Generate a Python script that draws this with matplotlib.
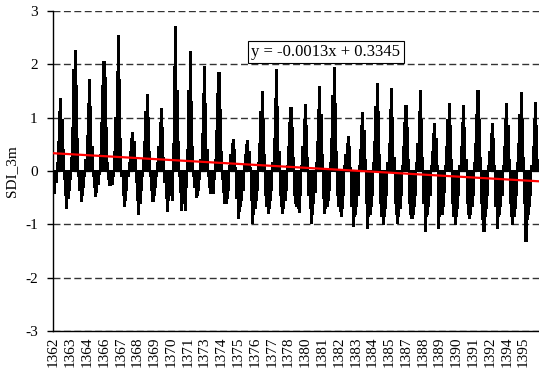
import numpy as np
import matplotlib.pyplot as plt

plt.rcParams['font.family'] = ['Liberation Serif', 'DejaVu Serif']
plt.rcParams['axes.unicode_minus'] = False

# SDI (3-month) monthly values, one list per water year (Mehr..Shahrivar)
wy_1362 = [-0.35, -0.41, -0.20, 0.15, 0.55, 1.10, 1.35, 0.95, 0.40, -0.15, -0.45, -0.69]
wy_1363 = [-0.50, -0.35, -0.15, 0.25, 0.80, 1.90, 2.25, 1.60, 0.60, -0.10, -0.35, -0.56]
wy_1364 = [-0.45, -0.30, -0.10, 0.20, 0.65, 1.25, 1.70, 1.20, 0.45, -0.10, -0.30, -0.47]
wy_1365 = [-0.40, -0.25, -0.05, 0.30, 0.90, 1.60, 2.04, 1.75, 0.80, 0.15, -0.15, -0.26]
wy_1366 = [-0.20, -0.25, -0.10, 0.35, 1.00, 1.85, 2.54, 1.70, 0.60, -0.10, -0.45, -0.65]
wy_1367 = [-0.55, -0.35, -0.10, 0.15, 0.35, 0.60, 0.72, 0.55, 0.20, -0.20, -0.55, -0.81]
wy_1368 = [-0.60, -0.35, -0.10, 0.20, 0.55, 1.10, 1.42, 1.00, 0.35, -0.10, -0.35, -0.56]
wy_1369 = [-0.45, -0.30, -0.10, 0.15, 0.45, 0.90, 1.17, 0.80, 0.25, -0.20, -0.50, -0.75]
wy_1370 = [-0.55, -0.45, -0.35, -0.55, 0.50, 1.95, 2.70, 1.50, 0.55, -0.10, -0.40, -0.73]
wy_1371 = [-0.50, -0.60, -0.73, -0.30, 0.40, 1.50, 2.23, 1.30, 0.45, -0.10, -0.30, -0.48]
wy_1372 = [-0.45, -0.35, -0.15, 0.20, 0.70, 1.45, 1.95, 1.25, 0.40, -0.10, -0.30, -0.41]
wy_1373 = [-0.38, -0.41, -0.15, 0.20, 0.75, 1.45, 1.84, 1.15, 0.35, -0.15, -0.40, -0.60]
wy_1374 = [-0.60, -0.50, -0.35, 0.10, 0.30, 0.50, 0.58, 0.40, 0.05, -0.50, -0.88, -0.75]
wy_1375 = [-0.65, -0.55, -0.35, 0.10, 0.30, 0.48, 0.57, 0.35, 0.05, -0.55, -0.97, -0.80]
wy_1376 = [-0.70, -0.55, -0.35, 0.15, 0.50, 1.10, 1.48, 0.95, 0.30, -0.45, -0.65, -0.79]
wy_1377 = [-0.70, -0.55, -0.35, 0.15, 0.60, 1.35, 1.89, 1.20, 0.35, -0.45, -0.65, -0.79]
wy_1378 = [-0.70, -0.55, -0.35, 0.10, 0.45, 0.90, 1.19, 0.80, 0.25, -0.45, -0.60, -0.65]
wy_1379 = [-0.70, -0.76, -0.45, 0.10, 0.45, 0.95, 1.23, 0.85, 0.25, -0.45, -0.70, -0.97]
wy_1380 = [-0.80, -0.60, -0.40, 0.15, 0.55, 1.15, 1.57, 1.05, 0.30, -0.50, -0.79, -0.70]
wy_1381 = [-0.65, -0.55, -0.35, 0.15, 0.60, 1.40, 1.93, 1.25, 0.35, -0.45, -0.65, -0.75]
wy_1382 = [-0.85, -0.70, -0.45, 0.10, 0.30, 0.50, 0.64, 0.45, 0.05, -0.65, -1.04, -0.85]
wy_1383 = [-0.80, -0.65, -0.45, 0.10, 0.40, 0.85, 1.08, 0.75, 0.20, -0.60, -1.07, -0.85]
wy_1384 = [-0.80, -0.65, -0.45, 0.15, 0.55, 1.20, 1.64, 1.10, 0.30, -0.60, -0.85, -1.00]
wy_1385 = [-0.85, -0.70, -0.45, 0.15, 0.50, 1.15, 1.53, 1.00, 0.25, -0.60, -0.80, -0.97]
wy_1386 = [-0.85, -0.70, -0.45, 0.10, 0.45, 0.90, 1.21, 0.80, 0.20, -0.60, -0.80, -0.88]
wy_1387 = [-0.80, -0.65, -0.45, 0.15, 0.50, 1.10, 1.50, 0.95, 0.25, -0.60, -1.13, -0.85]
wy_1388 = [-0.80, -0.65, -0.45, 0.10, 0.35, 0.70, 0.89, 0.60, 0.10, -1.07, -0.85, -0.80]
wy_1389 = [-0.80, -0.65, -0.40, 0.10, 0.45, 0.95, 1.25, 0.85, 0.20, -0.60, -0.85, -1.00]
wy_1390 = [-0.85, -0.70, -0.45, 0.10, 0.45, 0.90, 1.21, 0.80, 0.20, -0.60, -0.80, -0.88]
wy_1391 = [-0.80, -0.65, -0.45, 0.15, 0.50, 1.05, 1.50, 0.95, 0.25, -0.60, -0.90, -1.13]
wy_1392 = [-0.85, -0.70, -0.45, 0.10, 0.35, 0.70, 0.89, 0.60, 0.10, -0.65, -1.07, -0.85]
wy_1393 = [-0.80, -0.65, -0.45, 0.10, 0.45, 0.95, 1.25, 0.85, 0.20, -0.60, -0.85, -1.00]
wy_1394 = [-0.85, -0.70, -0.45, 0.15, 0.50, 1.05, 1.47, 0.95, 0.25, -0.60, -1.32, -0.90]
wy_1395 = [-0.80, -0.65, -0.45, 0.10, 0.45, 0.95, 1.28, 0.85, 0.20]

# category labels shown on the axis (every 14th month)
tick_labels = ["1362", "1363", "1364", "1366", "1367", "1368", "1369", "1370",
               "1371", "1373", "1374", "1375", "1376", "1377", "1378", "1380",
               "1381", "1382", "1383", "1384", "1385", "1387", "1388", "1389",
               "1390", "1391", "1392", "1394", "1395"]

# linear trendline (Excel)
slope = -0.0013
intercept = 0.3345

sdi = np.concatenate([wy_1362, wy_1363, wy_1364, wy_1365, wy_1366, wy_1367,
                      wy_1368, wy_1369, wy_1370, wy_1371, wy_1372, wy_1373,
                      wy_1374, wy_1375, wy_1376, wy_1377, wy_1378, wy_1379,
                      wy_1380, wy_1381, wy_1382, wy_1383, wy_1384, wy_1385,
                      wy_1386, wy_1387, wy_1388, wy_1389, wy_1390, wy_1391,
                      wy_1392, wy_1393, wy_1394, wy_1395])
n = len(sdi)
x = np.arange(1, n + 1)

fig = plt.figure(figsize=(5.39, 3.73), dpi=100)
ax = fig.add_axes([53 / 539, 42 / 373, 485.5 / 539, 320 / 373])

ax.bar(x, sdi, width=1.0, color="black", edgecolor="black", linewidth=0.3,
       antialiased=False, zorder=2)
ax.plot(x, slope * x + intercept, color="red", lw=1.6, zorder=3)

ax.set_xlim(0.5, n + 0.5)
ax.set_ylim(-3, 3)
ax.set_yticks(range(-3, 4))
ax.yaxis.grid(True, ls=(0, (5, 2.5)), color="#333333", lw=1.0, zorder=1)
ax.set_axisbelow(True)

for s in ["top", "right"]:
    ax.spines[s].set_visible(False)
ax.spines["left"].set_linewidth(1.0)
ax.spines["bottom"].set_linewidth(1.0)

ax.set_xticks(x[::14])
ax.set_xticklabels(tick_labels, rotation=90, fontsize=11)
ax.tick_params(axis="x", length=0, pad=4)
ax.tick_params(axis="y", length=4, width=1, labelsize=11, pad=7)

ax.set_ylabel("SDI_3m", fontsize=11, labelpad=5)

ax.text(0.5623, 0.872, "y = -0.0013x + 0.3345", transform=ax.transAxes,
        ha="center", va="center", fontsize=12, zorder=4,
        bbox=dict(boxstyle="square,pad=0.2", fc="white", ec="black", lw=0.8))

fig.savefig("out.png", dpi=100)
